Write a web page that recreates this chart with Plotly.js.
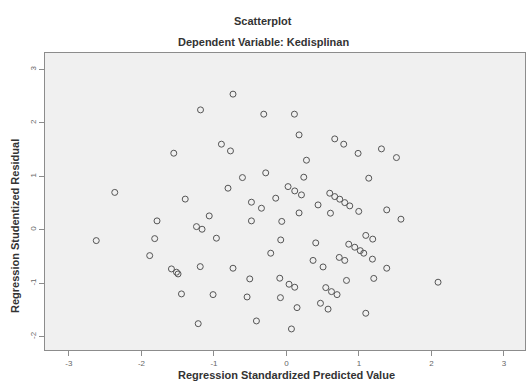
<!DOCTYPE html>
<html>
<head>
<meta charset="utf-8">
<script src="https://cdn.plot.ly/plotly-3.0.1.min.js"></script>
<style>html,body{margin:0;padding:0;background:#fff;}#chart{width:528px;height:382px;}</style>
</head>
<body>
<div id="chart"></div>
<script>
// Regression Standardized Predicted Value
const predicted = [
 -0.737,-1.185,-0.313,0.110,0.174,0.666,0.790,0.988,-0.897,-0.772,
 -1.554,0.276,-0.607,-0.286,0.239,1.310,1.517,1.135,-0.806,0.022,
 0.114,0.207,-0.148,-0.483,0.436,0.597,0.666,0.735,0.804,0.873,
 0.997,-2.368,-1.396,-0.345,0.174,0.607,1.383,1.579,-1.785,-1.241,
 -1.164,-1.065,-0.483,-0.065,-2.623,-1.817,-1.886,-0.966,-0.079,0.404,
 1.094,1.190,0.859,0.942,1.018,1.066,-0.217,0.367,0.728,0.804,
 0.505,1.186,1.383,1.204,0.828,-1.586,-1.517,-1.495,-1.189,-0.737,
 -0.506,-0.092,0.036,0.114,0.542,0.621,0.698,-1.448,-1.012,-0.543,
 -0.083,0.146,0.469,0.574,-0.414,0.069,-1.217,1.094,2.091
];
// Regression Studentized Residual
const residual = [
 2.54,2.245,2.165,2.165,1.777,1.702,1.603,1.431,1.603,1.477,
 1.434,1.303,0.978,1.066,0.985,1.515,1.352,0.966,0.779,0.809,
 0.728,0.654,0.592,0.517,0.466,0.685,0.622,0.573,0.509,0.448,
 0.345,0.700,0.575,0.404,0.316,0.311,0.373,0.199,0.167,0.060,
 0.011,0.260,0.167,0.157,-0.202,-0.165,-0.483,-0.157,-0.189,-0.245,
 -0.105,-0.174,-0.270,-0.326,-0.390,-0.438,-0.438,-0.573,-0.517,-0.573,
 -0.695,-0.549,-0.719,-0.910,-0.948,-0.732,-0.794,-0.826,-0.689,-0.719,
 -0.919,-0.906,-1.019,-1.075,-1.082,-1.157,-1.213,-1.200,-1.213,-1.257,
 -1.270,-1.457,-1.375,-1.485,-1.706,-1.856,-1.757,-1.562,-0.981
];
const xTicks = [-3,-2,-1,0,1,2,3];
const yTicks = [-2,-1,0,1,2,3];
const chartTitle = "Scatterplot";
const chartSubtitle = "Dependent Variable: Kedisplinan";
const xTitle = "Regression Standardized Predicted Value";
const yTitle = "Regression Studentized Residual";

const font = "Liberation Sans, Arial, sans-serif";
const trace = {
  x: predicted, y: residual, type: "scatter", mode: "markers",
  marker: {symbol: "circle-open", size: 6, color: "#555", line: {width: 1, color: "#555"}},
  hoverinfo: "x+y"
};
const axisCommon = {
  showgrid: false, zeroline: false, showline: true, mirror: true,
  linecolor: "#8c8c8c", linewidth: 1, ticks: "outside", ticklen: 5,
  tickcolor: "#8c8c8c", tickfont: {family: font, size: 8, color: "#666"}
};
const layout = {
  width: 528, height: 382,
  margin: {l: 45, r: 3, t: 53, b: 32},
  paper_bgcolor: "#ffffff", plot_bgcolor: "#f0f0f0",
  showlegend: false,
  xaxis: Object.assign({}, axisCommon, {range: [-3.33, 3.29], tickvals: xTicks, ticktext: xTicks.map(String)}),
  yaxis: Object.assign({}, axisCommon, {range: [-2.25, 3.31], tickvals: yTicks, ticktext: yTicks.map(String), tickangle: -90}),
  annotations: [
    {text: "<b>" + chartTitle + "</b>", xref: "paper", yref: "paper", x: (263-45)/480, y: 1 + (53-21)/297,
     xanchor: "center", yanchor: "middle", showarrow: false, font: {family: font, size: 11, color: "#333"}},
    {text: "<b>" + chartSubtitle + "</b>", xref: "paper", yref: "paper", x: (263-45)/480, y: 1 + (53-42)/297,
     xanchor: "center", yanchor: "middle", showarrow: false, font: {family: font, size: 11, color: "#333"}},
    {text: "<b>" + xTitle + "</b>", xref: "paper", yref: "paper", x: (286-45)/480, y: -(375-350)/297,
     xanchor: "center", yanchor: "middle", showarrow: false, font: {family: font, size: 11, color: "#333"}},
    {text: "<b>" + yTitle + "</b>", xref: "paper", yref: "paper", x: -(45-15)/480, y: (350-226)/297,
     xanchor: "center", yanchor: "middle", textangle: -90, showarrow: false, font: {family: font, size: 11, color: "#333"}}
  ]
};
Plotly.newPlot("chart", [trace], layout, {displayModeBar: false, staticPlot: true});
</script>
</body>
</html>
